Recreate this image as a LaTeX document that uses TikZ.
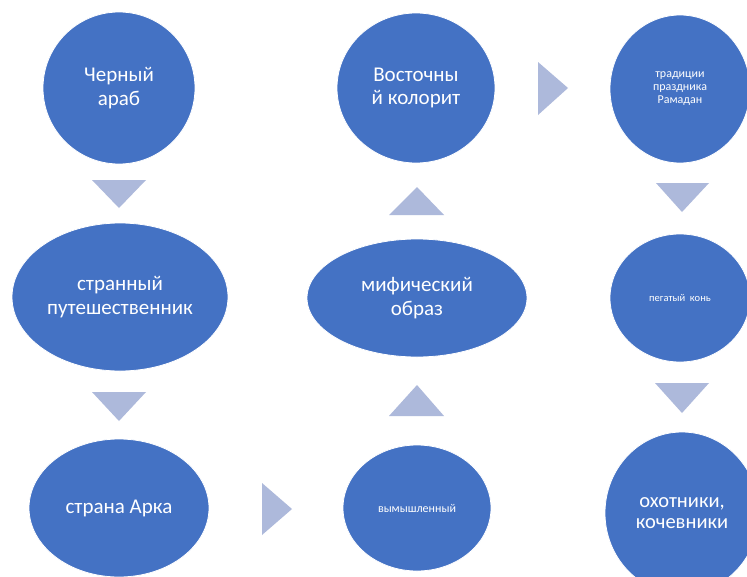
\documentclass[tikz,border=0pt]{standalone}
\usepackage{fontspec}
\setmainfont{Carlito}
\usetikzlibrary{shapes.geometric}
\definecolor{nodeblue}{HTML}{4472C4}
\definecolor{arrowblue}{HTML}{ADB9DB}
\tikzset{
  bubble/.style={ellipse, fill=nodeblue, draw=white, line width=0.8pt, inner sep=0pt, text=white, align=center},
  big/.style={font=\fontsize{21}{23.5}\selectfont},
  mid/.style={font=\fontsize{20.5}{21.5}\selectfont},
  small/.style={font=\fontsize{12}{13}\selectfont},
  tiny/.style={font=\fontsize{10.5}{12}\selectfont},
  tinyb/.style={font=\fontsize{12}{13}\selectfont}
}
\tikzset{arr/.style={fill=arrowblue}}
\begin{document}
\begin{tikzpicture}[x=1pt,y=-1pt]
\useasboundingbox[fill=white] (0,0) rectangle (747,576);
% column 1
\node[bubble,big,minimum width=152pt,minimum height=152pt] (n1) at (119,88) {Черный\\араб};
\node[bubble,big,minimum width=216pt,minimum height=148pt] (n2) at (120,297) {странный\\путешественник};
\node[bubble,big,minimum width=180pt,minimum height=138pt] (n3) at (119,508) {страна Арка};
% column 2
\node[bubble,tinyb,minimum width=148pt,minimum height=126pt] (n4) at (417,508) {вымышленный};
\node[bubble,big,minimum width=220pt,minimum height=118pt] (n5) at (417,298) {мифический\\образ};
\node[bubble,big,minimum width=158pt,minimum height=150pt] (n6) at (416,88) {Восточны\\й колорит};
% column 3
\node[bubble,small,minimum width=140pt,minimum height=148pt] (n7) at (680,89) {традиции\\праздника\\Рамадан};
\node[bubble,tiny,minimum width=140pt,minimum height=128pt] (n8) at (680,298) {пегатый\ \ конь};
\node[bubble,mid,minimum width=154pt,minimum height=162pt] (n9) at (682,513) {охотники,\\кочевники};
% arrows
\fill[arr] (92,180) -- (146,180) -- (119,208) -- cycle;
\fill[arr] (92,392) -- (146,392) -- (119,421) -- cycle;
\fill[arr] (262,483) -- (292,509) -- (262,535) -- cycle;
\fill[arr] (389,416) -- (444,416) -- (417,385) -- cycle;
\fill[arr] (389,215) -- (444,215) -- (417,187) -- cycle;
\fill[arr] (538,62) -- (568,88) -- (538,115) -- cycle;
\fill[arr] (656,183) -- (709,183) -- (682,212) -- cycle;
\fill[arr] (655,383) -- (709,383) -- (682,413) -- cycle;
\end{tikzpicture}
\end{document}
